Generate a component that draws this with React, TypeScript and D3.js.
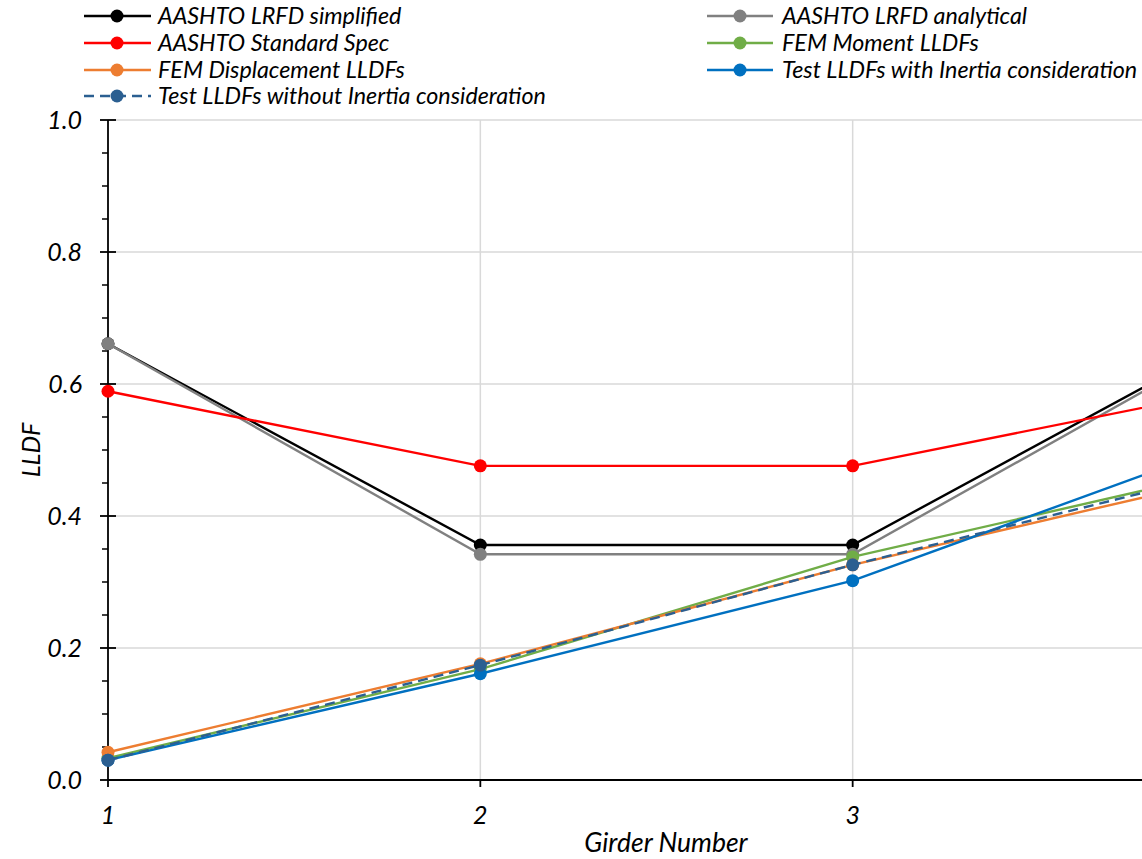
import React from "react";
import * as d3 from "d3";

const girders = [1, 2, 3, 4];
const lrfdSimplified = [0.661, 0.356, 0.356, 0.662];
const lrfdAnalytical = [0.661, 0.342, 0.342, 0.658];
const standardSpec = [0.589, 0.476, 0.476, 0.589];
const femMoment = [0.033, 0.168, 0.338, 0.467];
const femDisplacement = [0.042, 0.176, 0.326, 0.457];
const testWithInertia = [0.030, 0.161, 0.302, 0.507];
const testWithoutInertia = [0.030, 0.174, 0.326, 0.466];
const yTicks = [0, 0.2, 0.4, 0.6, 0.8, 1.0];
const yMinorTicks = [0.05, 0.1, 0.15, 0.25, 0.3, 0.35, 0.45, 0.5, 0.55, 0.65, 0.7, 0.75, 0.85, 0.9, 0.95];

const series = [
  { name: "AASHTO LRFD simplified", values: lrfdSimplified, color: "#000000", dash: "", col: 0, row: 0 },
  { name: "AASHTO LRFD analytical", values: lrfdAnalytical, color: "#808080", dash: "", col: 1, row: 0 },
  { name: "AASHTO Standard Spec", values: standardSpec, color: "#ff0000", dash: "", col: 0, row: 1 },
  { name: "FEM Moment LLDFs", values: femMoment, color: "#70ad47", dash: "", col: 1, row: 1 },
  { name: "FEM Displacement LLDFs", values: femDisplacement, color: "#ed7d31", dash: "", col: 0, row: 2 },
  { name: "Test LLDFs with Inertia consideration", values: testWithInertia, color: "#0070c0", dash: "", col: 1, row: 2 },
  { name: "Test LLDFs without Inertia consideration", values: testWithoutInertia, color: "#2b5f91", dash: "10,6", col: 0, row: 3 },
];

const FONT = "Lato, 'Open Sans', sans-serif";

export default function App() {
  const W = 1142, H = 859;
  const x = d3.scaleLinear().domain([1, 4]).range([108, 1225]);
  const y = d3.scaleLinear().domain([0, 1]).range([780, 120]);
  const line = d3.line<number>().x((_, i) => x(girders[i])).y((d) => y(d));

  const legCols = [{ x0: 84, x1: 151, mx: 117, tx: 158 }, { x0: 707, x1: 773, mx: 740, tx: 782 }];
  const legRows = [16, 43, 70, 96];

  return (
    <svg width={W} height={H} style={{ position: "absolute", left: 0, top: 0, background: "#fff" }} fontFamily={FONT}>
      <rect x={0} y={0} width={W} height={H} fill="#fff" />
      {/* grid */}
      {yTicks.filter((t) => t > 0).map((t) => (
        <line key={"gy" + t} x1={x(1)} x2={x(4)} y1={y(t)} y2={y(t)} stroke="#d9d9d9" strokeWidth={1.5} />
      ))}
      {girders.filter((g) => g > 1).map((g) => (
        <line key={"gx" + g} x1={x(g)} x2={x(g)} y1={y(1)} y2={y(0)} stroke="#d9d9d9" strokeWidth={1.5} />
      ))}
      {/* axes */}
      <line x1={x(1)} x2={x(1)} y1={y(1)} y2={y(0)} stroke="#000" strokeWidth={1.8} />
      <line x1={x(1)} x2={x(4)} y1={y(0)} y2={y(0)} stroke="#000" strokeWidth={1.8} />
      {yTicks.map((t) => (
        <line key={"yt" + t} x1={x(1) - 8} x2={x(1) + 8} y1={y(t)} y2={y(t)} stroke="#000" strokeWidth={1.8} />
      ))}
      {yMinorTicks.map((t) => (
        <line key={"ym" + t} x1={x(1) - 6} x2={x(1)} y1={y(t)} y2={y(t)} stroke="#000" strokeWidth={1.5} />
      ))}
      {girders.map((g) => (
        <line key={"xt" + g} x1={x(g)} x2={x(g)} y1={y(0)} y2={y(0) + 7} stroke="#000" strokeWidth={1.8} />
      ))}
      {yTicks.map((t) => (
        <text key={"yl" + t} x={82} y={y(t)} dy="0.35em" textAnchor="end" fontSize={25} fontStyle="italic" fill="#000">
          {t.toFixed(1)}
        </text>
      ))}
      {girders.filter((g) => x(g) < W - 10).map((g) => (
        <text key={"xl" + g} x={x(g)} y={815} dy="0.35em" textAnchor="middle" fontSize={25} fontStyle="italic" fill="#000">
          {g}
        </text>
      ))}
      <text x={0} y={0} transform="translate(31,450) rotate(-90)" textAnchor="middle" dy="0.35em" fontSize={25} fontStyle="italic">
        LLDF
      </text>
      <text x={666} y={843} textAnchor="middle" dy="0.35em" fontSize={26.5} fontStyle="italic">
        Girder Number
      </text>
      {/* series */}
      {series.map((s) => (
        <g key={s.name}>
          <path d={line(s.values) || ""} fill="none" stroke={s.color} strokeWidth={2.4} strokeDasharray={s.dash || undefined} />
          {s.values.map((v, i) => (
            <circle key={i} cx={x(girders[i])} cy={y(v)} r={6.5} fill={s.color} />
          ))}
        </g>
      ))}
      {/* legend */}
      {series.map((s) => {
        const c = legCols[s.col];
        const ry = legRows[s.row];
        return (
          <g key={"leg" + s.name}>
            <line x1={c.x0} x2={c.x1} y1={ry} y2={ry} stroke={s.color} strokeWidth={2.5} strokeDasharray={s.dash || undefined} />
            <circle cx={c.mx} cy={ry} r={6.5} fill={s.color} />
            <text x={c.tx} y={ry} dy="0.35em" fontSize={23.3} fontStyle="italic" fill="#000">
              {s.name}
            </text>
          </g>
        );
      })}
    </svg>
  );
}
